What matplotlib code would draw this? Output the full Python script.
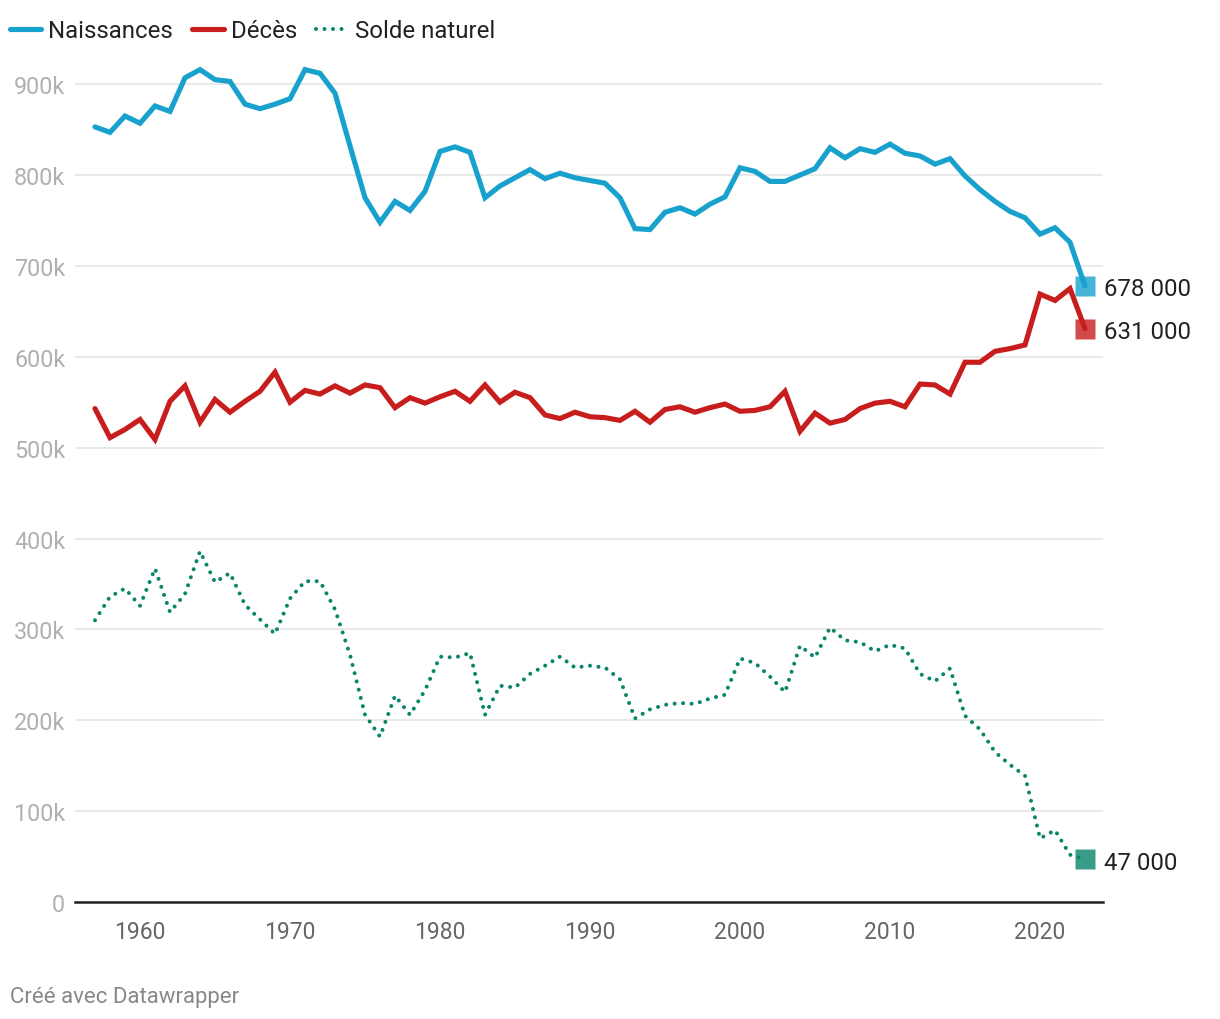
import matplotlib.pyplot as plt
from matplotlib.ticker import FuncFormatter

plt.rcParams['font.family'] = ['Roboto', 'DejaVu Sans']

years = list(range(1957, 2024))

# valeurs en milliers
naissances = [853, 847, 865, 857, 876, 870, 907, 916, 905, 903,
              878, 873, 878, 884, 916, 912, 890, 832, 775, 748,
              771, 761, 782, 826, 831, 825, 775, 788, 797, 806,
              796, 802, 797, 794, 791, 775, 741, 740, 759, 764,
              757, 768, 776, 808, 804, 793, 793, 800, 807, 830,
              819, 829, 825, 834, 824, 821, 812, 818, 799, 784,
              771, 760, 753, 735, 742, 726, 678]
deces = [543, 511, 520, 531, 509, 551, 568, 528, 553, 539,
         551, 562, 583, 550, 563, 559, 568, 560, 569, 566,
         544, 555, 549, 556, 562, 551, 569, 550, 561, 555,
         536, 532, 539, 534, 533, 530, 540, 528, 542, 545,
         539, 544, 548, 540, 541, 545, 562, 518, 538, 527,
         531, 543, 549, 551, 545, 570, 569, 559, 594, 594,
         606, 609, 613, 669, 662, 675, 631]
solde = [310, 336, 345, 326, 367, 319, 339, 386, 352, 362,
         327, 311, 295, 334, 353, 353, 322, 272, 206, 182,
         227, 206, 233, 270, 269, 274, 206, 238, 236, 251,
         260, 270, 258, 260, 258, 245, 202, 212, 217, 219,
         218, 224, 228, 268, 263, 248, 231, 282, 269, 302,
         288, 286, 276, 283, 279, 251, 243, 257, 205, 190,
         165, 151, 139, 70, 79, 52, 47]
end_labels = ['678 000', '631 000', '47 000']

c_nai = '#18a1cd'
c_dec = '#c71e1d'
c_sol = '#09856c'

fig = plt.figure(figsize=(12.2, 10.2), dpi=100)
ax = fig.add_axes([75 / 1220, 1 - 903 / 1020, 1028 / 1220, 836 / 1020])

ax.plot(years, naissances, color=c_nai, lw=3.7, solid_capstyle='round',
        solid_joinstyle='miter', label='Naissances', zorder=4, clip_on=False)
ax.plot(years, deces, color=c_dec, lw=3.7, solid_capstyle='round',
        solid_joinstyle='miter', label='Décès', zorder=4, clip_on=False)
ax.plot(years, solde, color=c_sol, lw=2.9, linestyle=(0, (0.01, 2.1)),
        dash_capstyle='round', label='Solde naturel', zorder=4, clip_on=False)

for series, col, lab in zip([naissances, deces, solde], [c_nai, c_dec, c_sol], end_labels):
    ax.plot(years[-1], series[-1], marker='s', ms=14, color=col, alpha=0.8,
            mec='none', zorder=3, clip_on=False)
    ax.annotate(lab, (years[-1], series[-1]), xytext=(14, -2),
                textcoords='offset points', va='center', ha='left',
                fontsize=17.3, color='#222222', annotation_clip=False)

ax.set_xlim(1955.667, 2024.2)
ax.set_ylim(0, 920)
ax.set_yticks(range(0, 1000, 100))
ax.yaxis.set_major_formatter(FuncFormatter(lambda v, p: '0' if v == 0 else f'{int(v)}k'))
ax.set_xticks(range(1960, 2030, 10))

ax.grid(axis='y', color='#e3e3e3', lw=1.1)
ax.grid(axis='x', visible=False)
ax.set_axisbelow(True)
for s in ['top', 'right', 'left']:
    ax.spines[s].set_visible(False)
ax.spines['bottom'].set_color('#222222')
ax.spines['bottom'].set_linewidth(1.8)
ax.spines['bottom'].set_zorder(5)

ax.tick_params(axis='y', length=0, pad=7, labelsize=16.8, labelcolor='#b0b0b0')
ax.tick_params(axis='x', length=0, pad=13, labelsize=16.5, labelcolor='#666666')

leg = fig.legend(loc='center left', bbox_to_anchor=(10 / 1220, 1 - 32 / 1020),
                 ncol=3, frameon=False, fontsize=17.3, handlelength=1.3,
                 handletextpad=0.3, columnspacing=0.8, borderpad=0,
                 borderaxespad=0)
for t in leg.get_texts():
    t.set_color('#222222')

fig.text(10 / 1220, 1 - 998 / 1020, 'Créé avec Datawrapper', fontsize=16,
         color='#888888', ha='left', va='center')

fig.savefig('out.png', dpi=100)
